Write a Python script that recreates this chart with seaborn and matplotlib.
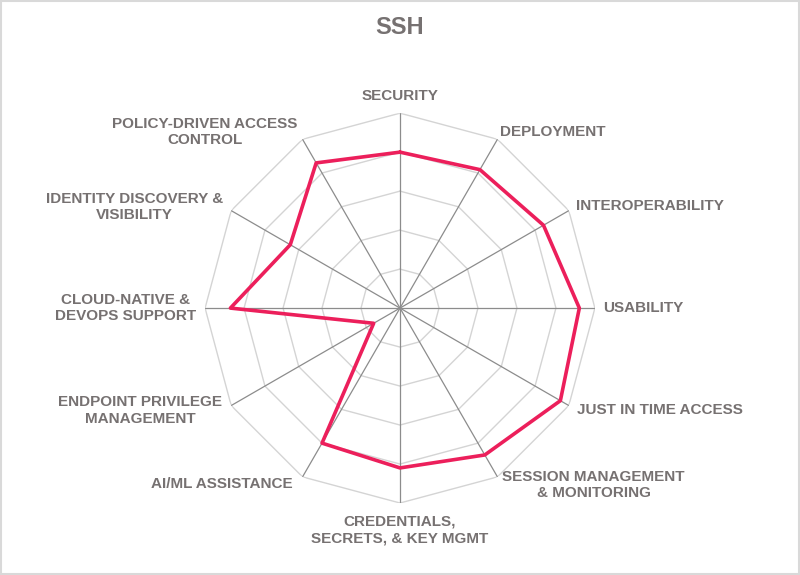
import numpy as np
import pandas as pd
import matplotlib
matplotlib.use("Agg")
import matplotlib.pyplot as plt
from matplotlib.patches import Rectangle
import seaborn as sns

# chart data
categories = [
    "SECURITY", "DEPLOYMENT", "INTEROPERABILITY", "USABILITY",
    "JUST IN TIME ACCESS", "SESSION MANAGEMENT\n& MONITORING",
    "CREDENTIALS,\nSECRETS, & KEY MGMT", "AI/ML ASSISTANCE",
    "ENDPOINT PRIVILEGE\nMANAGEMENT", "CLOUD-NATIVE &\nDEVOPS SUPPORT",
    "IDENTITY DISCOVERY &\nVISIBILITY", "POLICY-DRIVEN ACCESS\nCONTROL",
]
scores = [4.0, 4.1, 4.25, 4.6, 4.75, 4.35, 4.1, 4.0, 0.78, 4.35, 3.25, 4.3]
rings = [1, 2, 3, 4, 5]
title = "SSH"

sns.set_theme(style="white")
plt.rcParams['font.family'] = ['Liberation Sans', 'DejaVu Sans']

text_col = "#767171"
line_col = "#EC1F5B"

n = len(categories)
angles = np.arange(n) * 2 * np.pi / n
closed = np.append(angles, angles[0] + 2 * np.pi)

fig = plt.figure(figsize=(8, 5.75), dpi=100)
ax = fig.add_axes([0.25625, 0.1252, 0.4875, 0.678], projection="polar")
ax.set_theta_zero_location("N")
ax.set_theta_direction(-1)
ax.set_ylim(0, rings[-1])
ax.grid(False)
ax.spines["polar"].set_visible(False)
ax.set_xticks([])
ax.set_yticks([])

# polygon rings and spokes
for r in rings:
    ax.plot(closed, [r] * len(closed), color="#d4d4d4", lw=1, zorder=1)
for a in angles:
    ax.plot([a, a], [0, rings[-1]], color="#8c8c8c", lw=0.9, zorder=2)

df = pd.DataFrame({"angle": closed, "score": scores + scores[:1]})
sns.lineplot(data=df, x="angle", y="score", ax=ax, sort=False,
             color=line_col, lw=2.6, zorder=3)
ax.set_xlabel("")
ax.set_ylabel("")

# label placement: (ha, dx, dy) in pixels from outer vertex
place = [
    ("center", 0, 17), ("left", 3, 7), ("left", 7, 5), ("left", 8, 0),
    ("left", 8, -4), ("left", 5, -8), ("center", 0, -27), ("right", -10, -7),
    ("right", -9, -5), ("right", -9, 0), ("right", -8, 4), ("right", -5, 7),
]
for lab, a, (ha, dx, dy) in zip(categories, angles, place):
    ax.annotate(lab, xy=(a, rings[-1]), xytext=(dx, dy),
                textcoords="offset pixels", ha=ha, va="center",
                multialignment="center", fontsize=11, fontweight="bold",
                color=text_col, linespacing=1.2, annotation_clip=False)

fig.text(0.5, 1 - 27 / 575, title, ha="center", va="center",
         fontsize=17, fontweight="bold", color=text_col)

fig.patches.append(Rectangle((0.001, 0.001), 0.998, 0.998, transform=fig.transFigure,
                             fill=False, edgecolor="#d9d9d9", lw=1.5))

fig.savefig("out.png", dpi=100, facecolor="white")
